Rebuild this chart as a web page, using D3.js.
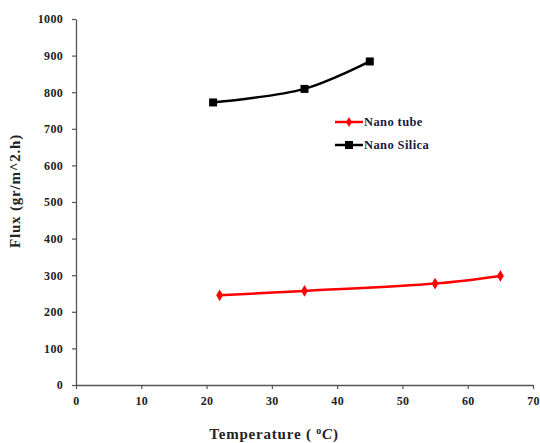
<!DOCTYPE html>
<html>
<head>
<meta charset="utf-8">
<title>Flux vs Temperature</title>
<script src="https://cdn.jsdelivr.net/npm/d3@7"></script>
<style>
  body { margin: 0; background: #fff; }
  text { font-family: "Liberation Serif", "Times New Roman", serif; font-weight: bold; }
</style>
</head>
<body>
<script>
// data
var tubeTemp = [22, 35, 55, 65];
var tubeFlux = [245, 257, 277, 298];
var silicaTemp = [21, 35, 45];
var silicaFlux = [772, 809, 884];
var xTicks = [0, 10, 20, 30, 40, 50, 60, 70];
var yTicks = [0, 100, 200, 300, 400, 500, 600, 700, 800, 900, 1000];

var w = 540, h = 443;
// plot box (note: "top" is taken by window.top)
var padL = 76, padR = 533, padT = 19, padB = 385;

var svg = d3.select("body").append("svg")
    .attr("width", w)
    .attr("height", h);

var x = d3.scaleLinear().domain([0, 70]).range([padL, padR]);
var y = d3.scaleLinear().domain([0, 1000]).range([padB, padT]);

// axes
var xAxis = svg.append("g")
    .attr("transform", "translate(0," + padB + ")")
    .call(d3.axisBottom(x).tickValues(xTicks).tickFormat(d3.format("d"))
            .tickSize(4).tickSizeOuter(0).tickPadding(7));
var yAxis = svg.append("g")
    .attr("transform", "translate(" + padL + ",0)")
    .call(d3.axisLeft(y).tickValues(yTicks).tickFormat(d3.format("d"))
            .tickSize(4).tickSizeOuter(0).tickPadding(9));

[xAxis, yAxis].forEach(function(a) {
  a.select(".domain").attr("stroke", "#555").attr("stroke-width", 1.3);
  a.selectAll(".tick line").attr("stroke", "#555").attr("stroke-width", 1.2);
  a.selectAll(".tick text")
    .style("font-family", "'Liberation Serif', serif")
    .style("font-weight", "bold")
    .style("font-size", "12px")
    .style("letter-spacing", "0.3px")
    .attr("fill", "#222");
});

var line = d3.line()
    .x(function(d) { return x(d[0]); })
    .y(function(d) { return y(d[1]); })
    .curve(d3.curveCatmullRom.alpha(0.5));

var tube = d3.zip(tubeTemp, tubeFlux);
var silica = d3.zip(silicaTemp, silicaFlux);

// Nano tube (red, diamonds)
svg.append("path")
    .datum(tube)
    .attr("d", line)
    .attr("fill", "none")
    .attr("stroke", "#ff0000")
    .attr("stroke-width", 2.5);

svg.selectAll(".tubept")
    .data(tube)
    .enter()
    .append("path")
    .attr("class", "tubept")
    .attr("d", d3.symbol().type(d3.symbolDiamond).size(40))
    .attr("transform", function(d) { return "translate(" + x(d[0]) + "," + y(d[1]) + ")"; })
    .attr("fill", "#ff0000");

// Nano silica (black, squares)
svg.append("path")
    .datum(silica)
    .attr("d", line)
    .attr("fill", "none")
    .attr("stroke", "#000")
    .attr("stroke-width", 2.5);

svg.selectAll(".silpt")
    .data(silica)
    .enter()
    .append("rect")
    .attr("class", "silpt")
    .attr("x", function(d) { return x(d[0]) - 4; })
    .attr("y", function(d) { return y(d[1]) - 4; })
    .attr("width", 8)
    .attr("height", 8)
    .attr("fill", "#000");

// legend
var legend = svg.append("g").attr("transform", "translate(335,122)");
legend.append("line").attr("x1", 0).attr("x2", 28).attr("y1", 0).attr("y2", 0)
    .attr("stroke", "#ff0000").attr("stroke-width", 2.5);
legend.append("path").attr("d", d3.symbol().type(d3.symbolDiamond).size(30))
    .attr("transform", "translate(14,0)").attr("fill", "#ff0000");
legend.append("text").attr("x", 29).attr("y", 4).style("font-size", "12.5px")
    .style("letter-spacing", "0.4px")
    .attr("fill", "#1a1a40").text("Nano tube");

legend.append("line").attr("x1", 0).attr("x2", 28).attr("y1", 23).attr("y2", 23)
    .attr("stroke", "#000").attr("stroke-width", 2.5);
legend.append("rect").attr("x", 10).attr("y", 19).attr("width", 8).attr("height", 8).attr("fill", "#000");
legend.append("text").attr("x", 29).attr("y", 27).style("font-size", "12.5px")
    .style("letter-spacing", "0.4px")
    .attr("fill", "#1a1a40").text("Nano Silica");

// axis titles
var xt = svg.append("text")
    .attr("x", 274)
    .attr("y", 439)
    .attr("text-anchor", "middle")
    .style("font-size", "15px")
    .style("letter-spacing", "0.8px")
    .attr("fill", "#222");
xt.append("tspan").text("Temperature ( ");
xt.append("tspan").attr("dy", -5).style("font-size", "10px").text("o");
xt.append("tspan").attr("dy", 5).style("font-style", "italic").text("C");
xt.append("tspan").text(")");

svg.append("text")
    .attr("transform", "translate(20,191) rotate(-90)")
    .attr("text-anchor", "middle")
    .style("font-size", "15px")
    .style("letter-spacing", "0.8px")
    .attr("fill", "#222")
    .text("Flux (gr/m^2.h)");
</script>
</body>
</html>
